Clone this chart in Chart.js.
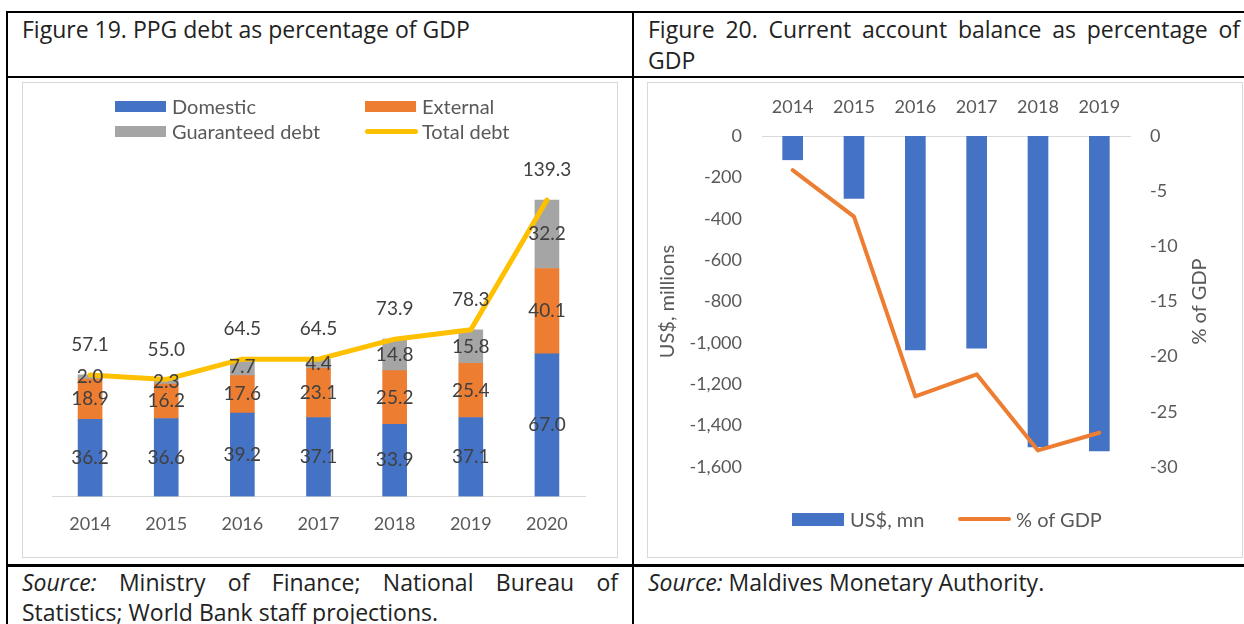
<!DOCTYPE html>
<html lang="en">
<head>
<meta charset="UTF-8" />
<title>PPG debt and current account balance</title>
<style>
  body {
    margin: 0;
    width: 1244px;
    height: 624px;
    overflow: hidden;
    position: relative;
    background: #fff;
    font-family: Lato, "Open Sans", sans-serif;
  }
  .rule { position: absolute; background: #000; }
  .cell-text {
    position: absolute;
    font-family: "Open Sans", Lato, sans-serif;
    font-size: 23px;
    line-height: 31px;
    color: #222;
  }
  .just { text-align: justify; text-align-last: justify; }
  .box {
    position: absolute;
    width: 594px;
    height: 474px;
    border: 1px solid #d9d9d9;
  }
  .lg-text {
    position: absolute;
    font-size: 20px;
    line-height: 20px;
    color: #595959;
    white-space: nowrap;
  }
  .lg-box { position: absolute; }
</style>
</head>
<body>

<!-- table rules -->
<div class="rule" style="left:6px; top:11px; width:1238px; height:2px;"></div>
<div class="rule" style="left:6px; top:11px; width:2px; height:613px;"></div>
<div class="rule" style="left:632px; top:11px; width:2px; height:613px;"></div>
<div class="rule" style="left:6px; top:76px; width:1238px; height:2px;"></div>
<div class="rule" style="left:6px; top:564px; width:1238px; height:3px;"></div>

<div class="cell-text" style="left:22px; top:14px;">Figure 19. PPG debt as percentage of GDP</div>
<div class="cell-text" style="left:648px; top:14px; width:592px;">
  <div class="just">Figure 20. Current account balance as percentage of</div>
  <div>GDP</div>
</div>

<div class="box" style="left:22px; top:82px;"><canvas id="debtChart"></canvas></div>
<div class="box" style="left:647px; top:82px;"><canvas id="caChart"></canvas></div>

<div class="cell-text" style="left:22px; top:567px; width:596px; line-height:30px;">
  <div class="just"><i>Source:</i> Ministry of Finance; National Bureau of</div>
  <div>Statistics; World Bank staff projections.</div>
</div>
<div class="cell-text" style="left:648px; top:567px; line-height:30px;"><i>Source:</i> Maldives Monetary Authority.</div>

<!-- legends -->
<div class="lg-box" style="left:115px; top:101px; width:51px; height:11px; background:#4472C4;"></div>
<div class="lg-text" style="left:172px; top:96px;">Domestic</div>
<div class="lg-box" style="left:365px; top:101px; width:51px; height:11px; background:#ED7D31;"></div>
<div class="lg-text" style="left:422px; top:96px;">External</div>
<div class="lg-box" style="left:115px; top:126px; width:51px; height:11px; background:#A5A5A5;"></div>
<div class="lg-text" style="left:172px; top:121px;">Guaranteed debt</div>
<div class="lg-box" style="left:365px; top:129px; width:53px; height:5px; border-radius:3px; background:#FFC000;"></div>
<div class="lg-text" style="left:422px; top:121px;">Total debt</div>

<div class="lg-box" style="left:792px; top:513px; width:52px; height:13px; background:#4472C4;"></div>
<div class="lg-text" style="left:850px; top:509px;">US$, mn</div>
<div class="lg-box" style="left:958px; top:517px; width:53px; height:4px; border-radius:2px; background:#ED7D31;"></div>
<div class="lg-text" style="left:1016px; top:509px;">% of GDP</div>

<script src="https://cdn.jsdelivr.net/npm/chart.js"></script>
<script>
  // Figure 19 data (% of GDP)
  const debtYears = ['2014', '2015', '2016', '2017', '2018', '2019', '2020'];
  const domestic = [36.2, 36.6, 39.2, 37.1, 33.9, 37.1, 67.0];
  const external = [18.9, 16.2, 17.6, 23.1, 25.2, 25.4, 40.1];
  const guaranteed = [2.0, 2.3, 7.7, 4.4, 14.8, 15.8, 32.2];
  const totalDebt = [57.1, 55.0, 64.5, 64.5, 73.9, 78.3, 139.3];

  // Figure 20 data
  const caYears = ['2014', '2015', '2016', '2017', '2018', '2019'];
  const caUsd = [-115, -302, -1034, -1026, -1503, -1522];
  const caPctGdp = [-3.1, -7.3, -23.6, -21.6, -28.5, -26.9];

  const FONT = 'Lato';
  const tickColor = '#595959';

  // segment values and totals written on the debt chart
  const debtLabels = {
    id: 'debtLabels',
    afterDatasetsDraw(chart) {
      const ctx = chart.ctx;
      ctx.save();
      ctx.font = '19px ' + FONT;
      ctx.fillStyle = '#404040';
      ctx.textAlign = 'center';
      ctx.textBaseline = 'middle';
      chart.data.datasets.forEach((ds, i) => {
        if (ds.type === 'line') return;
        chart.getDatasetMeta(i).data.forEach((bar, j) => {
          const p = bar.getProps(['x', 'y', 'base'], true);
          ctx.fillText(ds.data[j].toFixed(1), p.x, (p.y + p.base) / 2);
        });
      });
      const xs = chart.scales.x, ys = chart.scales.y;
      totalDebt.forEach((v, j) => {
        ctx.fillText(v.toFixed(1), xs.getPixelForValue(j), ys.getPixelForValue(v) - 30);
      });
      ctx.restore();
    }
  };

  new Chart(document.getElementById('debtChart'), {
    type: 'bar',
    data: {
      labels: debtYears,
      datasets: [
        { type: 'line', label: 'Total debt', data: totalDebt, stack: 'total',
          borderColor: '#FFC000', borderWidth: 5, pointRadius: 0,
          borderCapStyle: 'round', borderJoinStyle: 'round', order: 0 },
        { label: 'Domestic', data: domestic, backgroundColor: '#4472C4', order: 1 },
        { label: 'External', data: external, backgroundColor: '#ED7D31', order: 1 },
        { label: 'Guaranteed debt', data: guaranteed, backgroundColor: '#A5A5A5', order: 1 }
      ]
    },
    options: {
      responsive: true,
      maintainAspectRatio: false,
      animation: false,
      barThickness: 24,
      layout: { padding: { left: 29, right: 32, top: 73, bottom: 5 } },
      plugins: { legend: { display: false }, tooltip: { enabled: false } },
      scales: {
        x: {
          stacked: true,
          offset: true,
          grid: { display: false, drawTicks: false },
          border: { display: true, color: '#d9d9d9', width: 1 },
          ticks: { color: tickColor, font: { family: FONT, size: 18 }, padding: 17 }
        },
        y: { stacked: true, display: false, min: 0, max: 160 }
      }
    },
    plugins: [debtLabels]
  });

  // right axis title reads bottom to top, like the left one
  const rightTitle = {
    id: 'rightTitle',
    afterDraw(chart) {
      const s = chart.scales.y2, ctx = chart.ctx;
      ctx.save();
      ctx.translate(s.left + 70, (s.top + s.bottom) / 2);
      ctx.rotate(-Math.PI / 2);
      ctx.font = '20px ' + FONT;
      ctx.fillStyle = tickColor;
      ctx.textAlign = 'center';
      ctx.textBaseline = 'middle';
      ctx.fillText('% of GDP', 0, 0);
      ctx.restore();
    }
  };

  const fmt = v => v.toLocaleString('en-US');

  new Chart(document.getElementById('caChart'), {
    type: 'bar',
    data: {
      labels: caYears,
      datasets: [
        { type: 'line', label: '% of GDP', data: caPctGdp, yAxisID: 'y2',
          borderColor: '#ED7D31', borderWidth: 4, pointRadius: 0,
          borderCapStyle: 'round', borderJoinStyle: 'round', order: 0 },
        { label: 'US$, mn', data: caUsd, yAxisID: 'y', backgroundColor: '#4472C4',
          barThickness: 20, order: 1 }
      ]
    },
    options: {
      responsive: true,
      maintainAspectRatio: false,
      animation: false,
      layout: { padding: { left: 0, right: 0, top: 0, bottom: 90 } },
      plugins: { legend: { display: false }, tooltip: { enabled: false } },
      scales: {
        x: {
          position: 'top',
          offset: true,
          grid: { display: false, drawTicks: false },
          border: { display: true, color: '#d9d9d9', width: 1 },
          ticks: { color: tickColor, font: { family: FONT, size: 18 }, padding: 18 },
          afterFit: s => { s.height = 53; }
        },
        y: {
          position: 'left',
          min: -1600, max: 0,
          grid: { display: false, drawTicks: false },
          border: { display: false },
          ticks: { stepSize: 200, color: tickColor, font: { family: FONT, size: 18 }, padding: 20,
                   callback: v => fmt(v) },
          title: { display: true, text: 'US$, millions', color: tickColor,
                   font: { family: FONT, size: 20 }, padding: { top: 8, bottom: 0 } },
          afterFit: s => { s.width = 114; }
        },
        y2: {
          position: 'right',
          min: -30, max: 0,
          grid: { display: false, drawTicks: false },
          border: { display: false },
          ticks: { stepSize: 5, color: tickColor, font: { family: FONT, size: 18 }, padding: 20 },
          afterFit: s => { s.width = 112; }
        }
      }
    },
    plugins: [rightTitle]
  });
</script>
</body>
</html>
